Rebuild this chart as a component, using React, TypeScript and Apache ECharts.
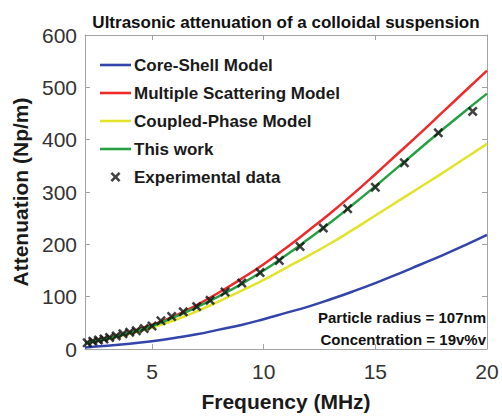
import React, { useEffect, useRef } from 'react';
import * as echarts from 'echarts';

const frequencies = [2, 3, 4, 5, 6, 7, 8, 9, 10, 11, 12, 13, 14, 15, 16, 17, 18, 19, 20];
const coreShell = [3, 6, 10, 15, 21, 28, 37, 46, 57, 69, 81, 95, 110, 126, 143, 161, 179, 198, 218];
const multipleScattering = [12, 21, 32, 46, 63, 84, 108, 134, 162, 193, 226, 260, 296, 334, 373, 412, 452, 492, 532];
const coupledPhase = [11, 19, 29, 41, 55, 72, 91, 111, 132, 155, 178, 202, 228, 255, 282, 309, 336, 364, 392];
const thisWork = [11, 20, 31, 44, 61, 80, 101, 124, 150, 179, 210, 242, 276, 311, 347, 383, 419, 454, 488];

const expFrequencies = [2.1, 2.35, 2.6, 2.85, 3.1, 3.4, 3.7, 4.0, 4.3, 4.65, 5.0, 5.4, 5.88, 6.4, 7.0, 7.6, 8.27, 9.02, 9.84, 10.7, 11.63, 12.67, 13.76, 15.0, 16.3, 17.82, 19.36];
const expAttenuation = [12, 15, 17, 19, 22, 25, 29, 32, 35, 39, 44, 54, 62, 71, 81, 93, 109, 126, 146, 169, 196, 231, 268, 309, 356, 413, 454];

const xTicks = [5, 10, 15, 20];
const seriesNames = ['Core-Shell Model', 'Multiple Scattering Model', 'Coupled-Phase Model', 'This work', 'Experimental data'];
const seriesColors = ['#3344aa', '#ee2b2b', '#e3e32a', '#25a043', '#111111'];

const FONT = "'Liberation Sans', Arial, Helvetica, sans-serif";
const CROSS = 'path://M0,1.8L1.8,0L5,3.2L8.2,0L10,1.8L6.8,5L10,8.2L8.2,10L5,6.8L1.8,10L0,8.2L3.2,5Z';
const LINE_ICON = 'path://M0,0H31V2.6H0Z';
const AXIS_COLOR = '#a3a3a3';

function pairs(xs: number[], ys: number[]) {
  return xs.map((x, i) => [x, ys[i]]);
}

export default function App() {
  const ref = useRef<HTMLDivElement>(null);
  useEffect(() => {
    document.body.style.margin = '0';
    if (!ref.current) return;
    const chart = echarts.init(ref.current, null, { renderer: 'svg' });
    const axisCommon = {
      axisLine: { show: true, onZero: false, lineStyle: { color: AXIS_COLOR, width: 1 } },
      splitLine: { show: false },
    };
    const lineSeries = [coreShell, multipleScattering, coupledPhase, thisWork].map((vals, i) => ({
      name: seriesNames[i],
      type: 'line',
      data: pairs(frequencies, vals),
      smooth: true,
      symbol: 'none',
      lineStyle: { color: seriesColors[i], width: 2.5 },
      itemStyle: { color: seriesColors[i] },
      z: 2 + i,
    }));
    chart.setOption({
      animation: false,
      grid: { left: 85, right: 15, top: 35, bottom: 65 },
      xAxis: [
        {
          type: 'value', min: 2, max: 20, position: 'bottom',
          name: 'Frequency (MHz)', nameLocation: 'middle', nameGap: 42,
          nameTextStyle: { fontSize: 21, fontWeight: 'bold', color: '#1a1a1a', fontFamily: FONT },
          ...axisCommon,
          axisTick: { show: true, inside: true, length: 5, customValues: xTicks, lineStyle: { color: AXIS_COLOR } },
          axisLabel: { customValues: xTicks, fontSize: 21, color: '#333333', margin: 12, fontFamily: FONT },
        },
        {
          type: 'value', min: 2, max: 20, position: 'top',
          ...axisCommon,
          axisTick: { show: true, inside: true, length: 5, customValues: xTicks, lineStyle: { color: AXIS_COLOR } },
          axisLabel: { show: false, customValues: xTicks },
        },
      ],
      yAxis: [
        {
          type: 'value', min: 0, max: 600, interval: 100, position: 'left',
          name: 'Attenuation (Np/m)', nameLocation: 'middle', nameGap: 52,
          nameTextStyle: { fontSize: 21, fontWeight: 'bold', color: '#1a1a1a', fontFamily: FONT },
          ...axisCommon,
          axisTick: { show: true, inside: true, length: 5, lineStyle: { color: AXIS_COLOR } },
          axisLabel: { fontSize: 21, color: '#333333', margin: 8, fontFamily: FONT },
        },
        {
          type: 'value', min: 0, max: 600, interval: 100, position: 'right',
          ...axisCommon,
          axisTick: { show: true, inside: true, length: 5, lineStyle: { color: AXIS_COLOR } },
          axisLabel: { show: false },
        },
      ],
      legend: {
        orient: 'vertical', left: 100, top: 56, padding: 0,
        itemWidth: 31, itemHeight: 10, itemGap: 10,
        textStyle: { fontSize: 17, fontWeight: 'bold', color: '#1a1a1a', fontFamily: FONT, lineHeight: 18, padding: [0, 0, 0, -2] },
        data: [
          { name: seriesNames[0], icon: LINE_ICON },
          { name: seriesNames[1], icon: LINE_ICON },
          { name: seriesNames[2], icon: LINE_ICON },
          { name: seriesNames[3], icon: LINE_ICON },
          { name: seriesNames[4] },
        ],
      },
      graphic: [
        {
          type: 'text', x: 286, y: 22,
          style: { text: 'Ultrasonic attenuation of a colloidal suspension', fontSize: 17, fontWeight: 'bold', fontFamily: FONT, fill: '#111111', align: 'center', verticalAlign: 'middle' },
        },
        {
          type: 'text', x: 486, y: 317,
          style: { text: 'Particle radius = 107nm', fontSize: 15, fontWeight: 'bold', fontFamily: FONT, fill: '#111111', align: 'right', verticalAlign: 'middle' },
        },
        {
          type: 'text', x: 486, y: 339,
          style: { text: 'Concentration = 19v%v', fontSize: 15, fontWeight: 'bold', fontFamily: FONT, fill: '#111111', align: 'right', verticalAlign: 'middle' },
        },
      ],
      series: [
        ...lineSeries,
        {
          name: seriesNames[4],
          type: 'scatter',
          data: pairs(expFrequencies, expAttenuation),
          symbol: CROSS,
          symbolSize: 10,
          itemStyle: { color: seriesColors[4] },
          z: 10,
        },
      ],
    });
    return () => chart.dispose();
  }, []);
  return <div ref={ref} style={{ width: 502, height: 417 }} />;
}
